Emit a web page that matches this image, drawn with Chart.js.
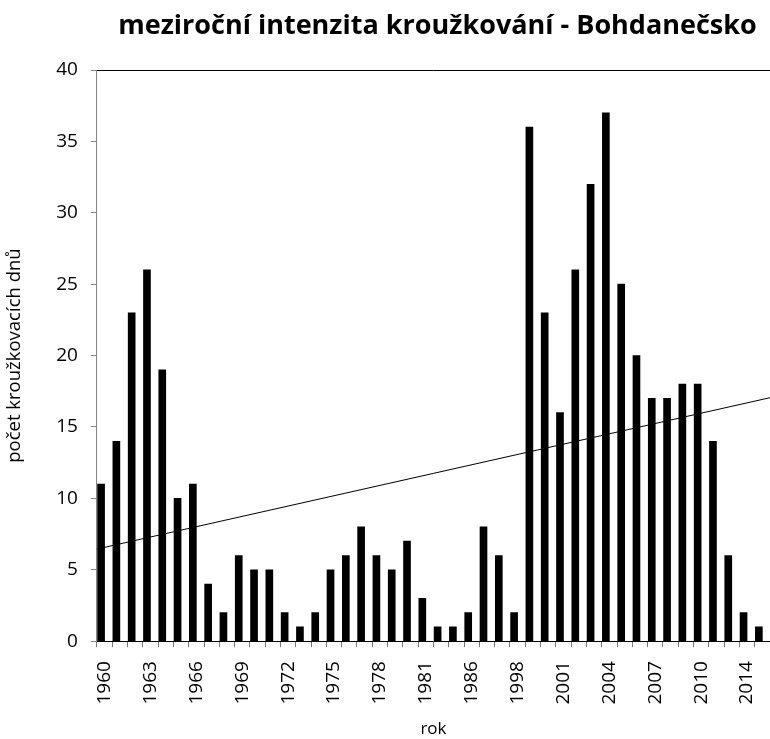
<!DOCTYPE html>
<html lang="cs">
<head>
  <meta charset="UTF-8">
  <title>meziroční intenzita kroužkování - Bohdanečsko</title>
  <script src="https://cdn.jsdelivr.net/npm/chart.js"></script>
  <style>
    body { margin: 0; background: #fff; }
    #wrap { width: 770px; height: 739px; }
  </style>
</head>
<body>
  <div id="wrap"><canvas id="myChart"></canvas></div>

  <script>
    // roky (osa x) - v řadě jsou mezery, ne každý rok se kroužkovalo
    const years = [
      '1960', '1961', '1962', '1963', '1964', '1965', '1966', '1967', '1968', '1969',
      '1970', '1971', '1972', '1973', '1974', '1975', '1976', '1977', '1978', '1979',
      '1980', '1981', '1983', '1985', '1986', '1987', '1988', '1998', '1999', '2000',
      '2001', '2002', '2003', '2004', '2005', '2006', '2007', '2008', '2009', '2010',
      '2011', '2012', '2014', '2015'
    ];
    // počet kroužkovacích dnů
    const days = [
      11, 14, 23, 26, 19, 10, 11, 4, 2, 6,
      5, 5, 2, 1, 2, 5, 6, 8, 6, 5,
      7, 3, 1, 1, 2, 8, 6, 2, 36, 23,
      16, 26, 32, 37, 25, 20, 17, 17, 18, 18,
      14, 6, 2, 1
    ];
    const yTicks = [0, 5, 10, 15, 20, 25, 30, 35, 40];
    // spojnice trendu - hodnoty odečtené na levém a pravém okraji grafu
    const trendEnds = [6.45, 17.05];

    const n = days.length;
    const trend = [
      { x: -0.5, y: trendEnds[0] },
      { x: n - 0.5, y: trendEnds[1] }
    ];

    const FONT = '"Open Sans", "DejaVu Sans", sans-serif';

    // nadpis vystředěný nad plochou grafu
    const titlePlugin = {
      id: 'titleOverArea',
      afterDraw(chart) {
        const c = chart.ctx;
        const a = chart.chartArea;
        c.save();
        c.font = 'bold 27px ' + FONT;
        c.fillStyle = '#000';
        c.textAlign = 'center';
        c.textBaseline = 'middle';
        c.fillText('meziroční intenzita kroužkování - Bohdanečsko', (a.left + a.right) / 2 + 4, 26);
        c.restore();
      }
    };

    const ctx = document.getElementById('myChart').getContext('2d');
    new Chart(ctx, {
      data: {
        labels: years,
        datasets: [{
          type: 'bar',
          data: days,
          backgroundColor: '#000',
          barThickness: 7,
          order: 2
        }, {
          type: 'line',
          data: trend,
          xAxisID: 'xt',
          borderColor: '#000',
          borderWidth: 1,
          pointRadius: 0,
          fill: false,
          order: 1
        }]
      },
      plugins: [titlePlugin],
      options: {
        responsive: true,
        maintainAspectRatio: false,
        animation: false,
        layout: { padding: { top: 70, right: 0, left: 4, bottom: 0 } },
        plugins: {
          legend: { display: false },
          tooltip: { enabled: false }
        },
        scales: {
          x: {
            type: 'category',
            offset: true,
            afterFit: s => { s.paddingRight = 0; },
            grid: {
              offset: true,
              drawOnChartArea: false,
              color: '#777',
              tickLength: 6
            },
            border: { color: '#000', width: 1 },
            ticks: {
              autoSkip: false,
              maxRotation: 90,
              minRotation: 90,
              color: '#000',
              padding: 14,
              font: { family: FONT, size: 19 },
              callback: function (val, i) { return i % 3 === 0 ? this.getLabelForValue(val) : ''; }
            },
            title: {
              display: true,
              text: 'rok',
              color: '#000',
              font: { family: FONT, size: 17 },
              padding: { top: 0, bottom: 0 }
            }
          },
          xt: {
            type: 'linear',
            display: false,
            min: -0.5,
            max: n - 0.5
          },
          y: {
            min: 0,
            max: 40,
            afterBuildTicks: axis => { axis.ticks = yTicks.map(v => ({ value: v })); },
            grid: {
              drawOnChartArea: true,
              color: c => c.tick && c.tick.value === 40 ? '#000' : 'rgba(0,0,0,0)',
              tickColor: '#888',
              tickLength: 6
            },
            border: { color: '#888', width: 1 },
            ticks: {
              color: '#000',
              padding: 13,
              font: { family: FONT, size: 19 }
            },
            title: {
              display: true,
              text: 'počet kroužkovacích dnů',
              color: '#000',
              font: { family: FONT, size: 18.5 },
              padding: { top: 0, bottom: 17 }
            }
          }
        }
      }
    });
  </script>
</body>
</html>
